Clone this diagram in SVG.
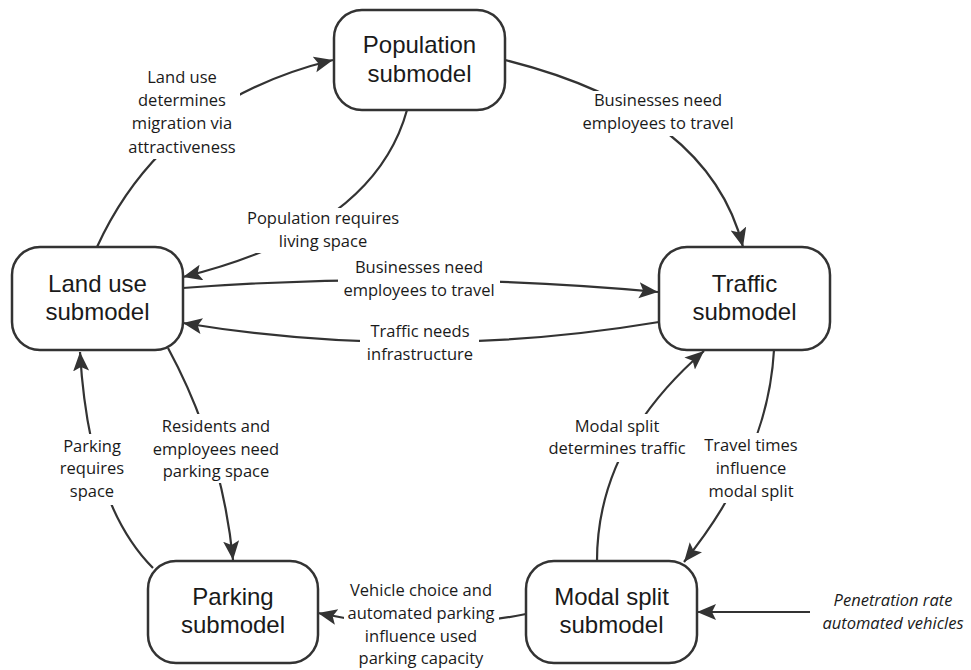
<svg xmlns="http://www.w3.org/2000/svg" width="971" height="670" viewBox="0 0 971 670">
<defs>
<marker id="arr" markerUnits="userSpaceOnUse" markerWidth="22" markerHeight="18" refX="19" refY="8" orient="auto">
<path d="M0,0 L19,8 L0,16 L4,8 Z" fill="#333"/>
</marker>
<style>
.node rect{fill:#fff;stroke:#333;stroke-width:2.5}
.node text{font-family:"Liberation Sans",Arial,sans-serif;font-size:24px;fill:#1a1a1a;text-anchor:middle}
.conn path{fill:none;stroke:#333;stroke-width:2.2}
.lbl rect{fill:#fff;stroke:none}
.lbl text{font-family:"Open Sans","Noto Sans",sans-serif;font-size:16.5px;fill:#1a1a1a;text-anchor:middle}
.lbl text.it{font-style:italic}
</style>
</defs>
<rect width="971" height="670" fill="#fff"/>
<g id="connectors" class="conn">
<path id="e-land-pop" d="M97,247 Q164,101 333,60" marker-end="url(#arr)"/>
<path id="e-pop-land" d="M407,110 Q374,230 183,277" marker-end="url(#arr)"/>
<path id="e-pop-traffic" d="M505,60 Q709,111 743,247" marker-end="url(#arr)"/>
<path id="e-land-traffic" d="M183,288 Q420,270 658,292" marker-end="url(#arr)"/>
<path id="e-traffic-land" d="M659,322 Q420,362 183,323" marker-end="url(#arr)"/>
<path id="e-land-parking" d="M168,348 Q222,448 233,560" marker-end="url(#arr)"/>
<path id="e-parking-land" d="M153,568 Q89,504 80,352" marker-end="url(#arr)"/>
<path id="e-modal-parking" d="M526,614 Q420,635 318,613" marker-end="url(#arr)"/>
<path id="e-modal-traffic" d="M597,561 Q597,444 704,351" marker-end="url(#arr)"/>
<path id="e-traffic-modal" d="M774,350 Q768,458 684,562" marker-end="url(#arr)"/>
<path id="e-pen-modal" d="M810,612 L697,612" marker-end="url(#arr)"/>
</g>
<g id="edge-labels" class="lbl">
<g id="l-land-pop"><rect x="122" y="66" width="118" height="93"/>
<text x="182" y="83">Land use</text><text x="182" y="106">determines</text><text x="182" y="129">migration via</text><text x="182" y="153">attractiveness</text></g>
<g id="l-pop-land"><rect x="243" y="208" width="162" height="45"/>
<text x="323" y="224">Population requires</text><text x="323" y="247">living space</text></g>
<g id="l-pop-traffic"><rect x="578" y="91" width="161" height="45"/>
<text x="658" y="106">Businesses need</text><text x="658" y="129">employees to travel</text></g>
<g id="l-land-traffic"><rect x="338" y="257" width="162" height="44"/>
<text x="419" y="273">Businesses need</text><text x="419" y="296">employees to travel</text></g>
<g id="l-traffic-land"><rect x="360" y="321" width="119" height="44"/>
<text x="420" y="337">Traffic needs</text><text x="420" y="360">infrastructure</text></g>
<g id="l-land-parking"><rect x="151" y="414" width="130" height="69"/>
<text x="216" y="432">Residents and</text><text x="216" y="455">employees need</text><text x="216" y="477">parking space</text></g>
<g id="l-parking-land"><rect x="56" y="434" width="72" height="71"/>
<text x="92" y="452">Parking</text><text x="92" y="474">requires</text><text x="92" y="497">space</text></g>
<g id="l-modal-parking"><rect x="344" y="580" width="155" height="90"/>
<text x="421" y="596">Vehicle choice and</text><text x="421" y="619">automated parking</text><text x="421" y="642">influence used</text><text x="421" y="664">parking capacity</text></g>
<g id="l-modal-traffic"><rect x="545" y="414" width="144" height="48"/>
<text x="617" y="432">Modal split</text><text x="617" y="454">determines traffic</text></g>
<g id="l-traffic-modal"><rect x="701" y="433" width="100" height="70"/>
<text x="751" y="451">Travel times</text><text x="751" y="474">influence</text><text x="751" y="497">modal split</text></g>
<g id="l-penetration">
<text class="it" x="893" y="606">Penetration rate</text><text class="it" x="893" y="629">automated vehicles</text></g>
</g>
<g id="n-population" class="node"><rect x="334" y="10" width="171" height="100" rx="28"/>
<text x="419.5" y="53">Population</text><text x="419.5" y="82">submodel</text></g>
<g id="n-landuse" class="node"><rect x="12" y="247" width="171" height="103" rx="28"/>
<text x="97.5" y="292">Land use</text><text x="97.5" y="320">submodel</text></g>
<g id="n-traffic" class="node"><rect x="659" y="247" width="171" height="103" rx="28"/>
<text x="744.5" y="292">Traffic</text><text x="744.5" y="320">submodel</text></g>
<g id="n-parking" class="node"><rect x="148" y="561" width="170" height="102" rx="28"/>
<text x="233" y="605">Parking</text><text x="233" y="633">submodel</text></g>
<g id="n-modal" class="node"><rect x="526" y="561" width="171" height="102" rx="28"/>
<text x="611.5" y="605">Modal split</text><text x="611.5" y="633">submodel</text></g>
</svg>
